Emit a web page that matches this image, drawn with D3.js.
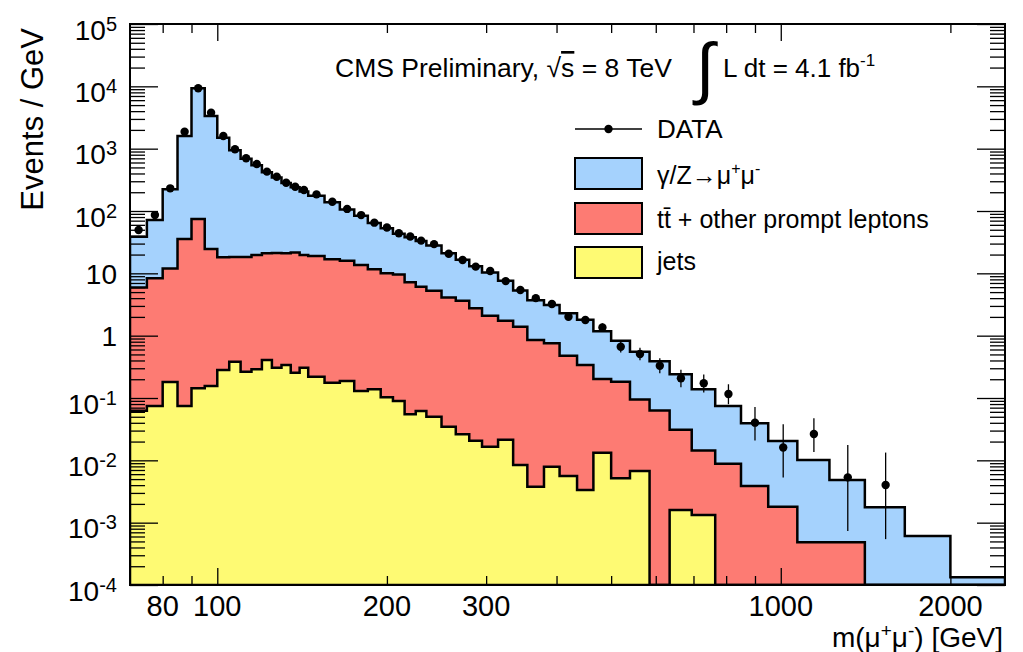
<!DOCTYPE html>
<html>
<head>
<meta charset="utf-8">
<script src="https://cdn.jsdelivr.net/npm/d3@7"></script>
<style>
  body { margin: 0; background: #fff; }
  text { font-family: "Liberation Sans", Arial, sans-serif; fill: #000; }
</style>
</head>
<body>
<script>
// bin edges in GeV (variable width)
let edges = [70, 75, 80, 85, 90, 95, 100, 105, 110, 115, 120, 125, 130, 135, 140, 145,
  155, 165, 175, 185, 195, 205, 215, 225, 235, 250, 265, 280, 295, 315, 335, 355,
  380, 405, 435, 465, 500, 540, 585, 635, 695, 765, 850, 950, 1070, 1220, 1410,
  1660, 2000, 2500];

// events / GeV per process
let dyVals = [32.8, 63.3, 211, 1560, 9215, 3318, 1482, 922, 672, 520, 399, 324, 259, 218,
  185, 156, 121, 90, 70.4, 52.4, 43, 33.4, 30.8, 26.9, 22.7, 16.9, 12.9, 10.25, 8.2,
  5.86, 3.91, 2.85, 2.35, 1.82, 1.46, 0.98, 0.648, 0.457, 0.327, 0.209, 0.1237, 0.0655,
  0.0353, 0.0186, 0.0096, 0.00435, 0.00176, 0.00061, 0.000133];
let ttVals = [5.84, 8.23, 11.8, 35.5, 74.4, 24.3, 17.8, 17.9, 18.0, 19.4, 20.6, 20.9, 20.7,
  21.3, 19.4, 18.8, 16.6, 15.8, 13.5, 11.5, 9.9, 9.5, 7.15, 6.04, 5.21, 4.07, 3.61, 2.73,
  2.07, 1.72, 1.38, 0.847, 0.745, 0.471, 0.335, 0.188, 0.177, 0.0883, 0.063, 0.0294,
  0.013, 0.0088, 0.00387, 0.0018, 0.000484, 0.000484, 0, 0, 0];
let jetsVals = [0.0625, 0.0743, 0.18, 0.0743, 0.143, 0.156, 0.281, 0.382, 0.264, 0.288,
  0.407, 0.306, 0.338, 0.255, 0.306, 0.22, 0.176, 0.187, 0.129, 0.138, 0.103, 0.0895,
  0.0547, 0.0618, 0.0501, 0.0346, 0.0261, 0.0206, 0.0165, 0.0213, 0.0084, 0.00378,
  0.0079, 0.0056, 0.00334, 0.0132, 0.00514, 0.00674, 0, 0.0016, 0.00133, 0, 0, 0, 0, 0,
  0, 0, 0];
let dataVals = [49.5, 86, 231, 1870, 9300, 3780, 1600, 980, 700, 567, 428, 355, 284, 245,
  217, 185, 141, 108, 86, 65, 54.5, 44, 39, 33.5, 29.4, 20.6, 16.4, 12.8, 10.9, 7.5, 5.4,
  4.0, 3.22, 2.01, 1.78, 1.35, 0.664, 0.508, 0.33, 0.207, 0.172, 0.116, 0.0402, 0.0161,
  0.0264, 0.00533, 0.00402, null, null];

// axis labels
let xTickLabels = [80, 100, 200, 300, 1000, 2000];
let yTickExps = [-4, -3, -2, -1, 0, 1, 2, 3, 4, 5];

let colors = { dy: "#a5d2fd", tt: "#fd7b73", jets: "#fefa73" };

let width = 1023;
let height = 652;
let pLeft = 130, pRight = 1005, pTop = 24, pBottom = 585;

let svg = d3.select("body")
  .append("svg")
  .attr("width", width)
  .attr("height", height);

let x = d3.scaleLog().domain([70, 2500]).range([pLeft, pRight]);
let y = d3.scaleLog().domain([1e-4, 1e5]).range([pBottom, pTop]);

function yPix(v) {
  if (!(v > 0)) return pBottom;
  return Math.min(y(v), pBottom);
}

// stack the three processes: jets at the bottom, then ttbar, then DY
let bins = edges.slice(0, -1).map((lo, i) => ({
  lo: lo, hi: edges[i + 1], jets: jetsVals[i], tt: ttVals[i], dy: dyVals[i]
}));
let stack = d3.stack().keys(["jets", "tt", "dy"])(bins);

let area = d3.area()
  .x(d => x(d.x))
  .y0(pBottom)
  .y1(d => yPix(d.v))
  .curve(d3.curveStepAfter);

let plot = svg.append("g");
plot.append("clipPath").attr("id", "clip")
  .append("rect").attr("x", pLeft).attr("y", pTop)
  .attr("width", pRight - pLeft).attr("height", pBottom - pTop);

// draw the highest cumulative layer first
for (let layer of stack.slice().reverse()) {
  let pts = layer.map((d, i) => ({ x: bins[i].lo, v: d[1] }));
  pts.push({ x: bins[bins.length - 1].hi, v: layer[layer.length - 1][1] });
  plot.append("path")
    .attr("clip-path", "url(#clip)")
    .attr("d", area(pts))
    .attr("fill", colors[layer.key])
    .attr("stroke", "#000")
    .attr("stroke-width", 2.5)
    .attr("stroke-linejoin", "miter");
}

// data points with poisson error bars
let points = bins.map((b, i) => ({ b: b, v: dataVals[i] })).filter(d => d.v != null);
for (let p of points) {
  let w = p.b.hi - p.b.lo;
  let n = p.v * w;
  let lo = n > 0.25 ? n - Math.sqrt(n - 0.25) : 0;
  let hi = n + 1 + Math.sqrt(n + 0.75);
  let cx = x((p.b.lo + p.b.hi) / 2);
  plot.append("line")
    .attr("x1", cx).attr("x2", cx)
    .attr("y1", yPix(lo / w)).attr("y2", yPix(hi / w))
    .attr("stroke", "#000").attr("stroke-width", 1.3);
  plot.append("circle")
    .attr("cx", cx).attr("cy", y(p.v)).attr("r", 4.2)
    .attr("fill", "#000");
}

// ticks on all four sides
let xMinor = [80, 90, 200, 300, 400, 500, 600, 700, 800, 900, 2000];
let xMajor = [100, 1000];
let yMajor = yTickExps.map(e => Math.pow(10, e));
let yMinor = [];
for (let e = -4; e < 5; e++) for (let k = 2; k < 10; k++) yMinor.push(k * Math.pow(10, e));

function addAxis(gen, tx, ty, vals, size) {
  svg.append("g")
    .attr("transform", `translate(${tx},${ty})`)
    .call(gen.tickValues(vals).tickSize(size).tickFormat(""))
    .call(g => g.select(".domain").remove())
    .selectAll("line").attr("stroke", "#000").attr("stroke-width", 1.3);
}
addAxis(d3.axisBottom(x), 0, pBottom, xMinor, -9);
addAxis(d3.axisBottom(x), 0, pBottom, xMajor, -17);
addAxis(d3.axisTop(x), 0, pTop, xMinor, -9);
addAxis(d3.axisTop(x), 0, pTop, xMajor, -17);
addAxis(d3.axisLeft(y), pLeft, 0, yMinor, -15);
addAxis(d3.axisLeft(y), pLeft, 0, yMajor, -28);
addAxis(d3.axisRight(y), pRight, 0, yMinor, -15);
addAxis(d3.axisRight(y), pRight, 0, yMajor, -28);

// frame
svg.append("rect")
  .attr("x", pLeft).attr("y", pTop)
  .attr("width", pRight - pLeft).attr("height", pBottom - pTop)
  .attr("fill", "none").attr("stroke", "#000").attr("stroke-width", 2);

// y labels
for (let e of yTickExps) {
  let ty = y(Math.pow(10, e));
  let t = svg.append("text").attr("x", 117).attr("text-anchor", "end")
    .style("font-size", "28px");
  if (e == 0 || e == 1) {
    t.attr("y", ty + 10.5).text(e == 0 ? "1" : "10");
  } else {
    t.attr("y", ty + 15.5);
    t.append("tspan").text("10");
    t.append("tspan").attr("dy", -9).style("font-size", "20px").text(e);
  }
}

// x labels
for (let v of xTickLabels) {
  svg.append("text")
    .attr("x", x(v)).attr("y", 616)
    .attr("text-anchor", "middle")
    .style("font-size", "29px")
    .text(v);
}

// axis titles
let xt = svg.append("text").attr("x", 1003).attr("y", 647)
  .attr("text-anchor", "end").style("font-size", "28px");
xt.append("tspan").text("m(\u03bc");
xt.append("tspan").attr("dy", -10).style("font-size", "19px").text("+");
xt.append("tspan").attr("dy", 10).text("\u03bc");
xt.append("tspan").attr("dy", -10).style("font-size", "19px").text("-");
xt.append("tspan").attr("dy", 10).text(") [GeV]");

svg.append("text")
  .attr("transform", "translate(43,28) rotate(-90)")
  .attr("text-anchor", "end")
  .style("font-size", "31px")
  .text("Events / GeV");

// header
let head = svg.append("text").attr("x", 335).attr("y", 77).style("font-size", "26.5px");
head.append("tspan").text("CMS Preliminary, \u221a");
head.append("tspan").style("text-decoration", "overline").text("s");
head.append("tspan").text(" = 8 TeV");

svg.append("text").attr("x", 696).attr("y", 91)
  .style("font-size", "68px").style("font-weight", "300").text("\u222b");
let lumi = svg.append("text").attr("x", 723).attr("y", 77).style("font-size", "26px");
lumi.append("tspan").text("L dt = 4.1 fb");
lumi.append("tspan").attr("dy", -11).style("font-size", "17px").text("-1");

// legend
let lx = 575, lw = 67, lh = 31, tx = 657;
svg.append("line").attr("x1", lx).attr("x2", lx + lw).attr("y1", 129).attr("y2", 129)
  .attr("stroke", "#000").attr("stroke-width", 1.3);
svg.append("circle").attr("cx", lx + lw / 2).attr("cy", 129).attr("r", 4.2);
svg.append("text").attr("x", tx).attr("y", 138).style("font-size", "26px").text("DATA");

let boxes = [
  { key: "dy", y: 158 },
  { key: "tt", y: 203 },
  { key: "jets", y: 247 }
];
for (let b of boxes) {
  svg.append("rect").attr("x", lx).attr("y", b.y).attr("width", lw).attr("height", lh)
    .attr("fill", colors[b.key]).attr("stroke", "#000").attr("stroke-width", 2);
}
let l1 = svg.append("text").attr("x", tx).attr("y", 184).style("font-size", "25px");
l1.append("tspan").text("\u03b3/Z\u2192\u03bc");
l1.append("tspan").attr("dy", -10).style("font-size", "16px").text("+");
l1.append("tspan").attr("dy", 10).text("\u03bc");
l1.append("tspan").attr("dy", -10).style("font-size", "16px").text("-");

svg.append("text").attr("x", tx).attr("y", 228).style("font-size", "25px")
  .text("tt\u0304 + other prompt leptons");
svg.append("text").attr("x", tx).attr("y", 270).style("font-size", "25px").text("jets");
</script>
</body>
</html>
